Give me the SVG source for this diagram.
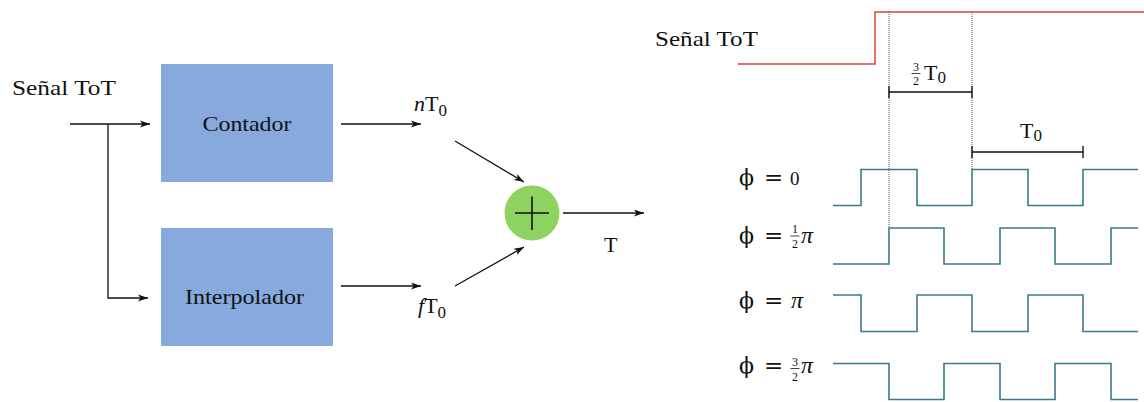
<svg xmlns="http://www.w3.org/2000/svg" width="1144" height="402" viewBox="0 0 1144 402">
<style>
.t{font-family:"Liberation Serif","DejaVu Serif",serif;fill:#111}
.m{font-family:"Liberation Serif","DejaVu Serif",serif;fill:#111;font-style:italic}
.g{font-family:"DejaVu Serif","Liberation Serif",serif;fill:#111}
.c{stroke:#111;stroke-width:1.3;fill:none}
.w{stroke:#3b7a88;stroke-width:1.6;fill:none}
.d{stroke:#333;stroke-width:0.8;stroke-dasharray:1 1;fill:none}
.box{fill:#87a9dd}
</style>
<defs>
<marker id="ar" markerUnits="userSpaceOnUse" markerWidth="11" markerHeight="8" refX="10" refY="4" orient="auto" viewBox="0 0 11 8">
<path d="M0,0.5 L10,4 L0,7.5 L2.5,4 Z" fill="#111"/>
</marker>
</defs>

<text class="t" x="12" y="95" font-size="22" textLength="104" lengthAdjust="spacingAndGlyphs">Señal ToT</text>

<g id="contador">
<rect class="box" x="161" y="64" width="172" height="118"/>
<text class="t" x="247" y="131" font-size="21" text-anchor="middle" textLength="89" lengthAdjust="spacingAndGlyphs">Contador</text>
</g>
<g id="interpolador">
<rect class="box" x="161" y="228" width="172" height="118"/>
<text class="t" x="244.5" y="304" font-size="21" text-anchor="middle" textLength="119" lengthAdjust="spacingAndGlyphs">Interpolador</text>
</g>
<g id="sumador">
<circle cx="532" cy="213" r="27.5" fill="#8ed35f"/>
<path d="M515,213 H549 M532,196.5 V230" stroke="#111" stroke-width="1.6"/>
</g>

<g id="connectors">
<line class="c" x1="70" y1="124" x2="150" y2="124" marker-end="url(#ar)"/>
<polyline class="c" points="108,124 108,298 148,298" marker-end="url(#ar)"/>
<line class="c" x1="341" y1="124" x2="421" y2="124" marker-end="url(#ar)"/>
<line class="c" x1="341" y1="286" x2="421" y2="286" marker-end="url(#ar)"/>
<line class="c" x1="455" y1="141" x2="524" y2="182" marker-end="url(#ar)"/>
<line class="c" x1="455" y1="286" x2="524" y2="247" marker-end="url(#ar)"/>
<line class="c" x1="563" y1="213" x2="644" y2="213" marker-end="url(#ar)"/>
</g>

<text class="m" x="414" y="111" font-size="22">n<tspan font-style="normal">T</tspan><tspan font-style="normal" font-size="17" dy="5">0</tspan></text>
<text class="m" x="418" y="313" font-size="22">f<tspan font-style="normal">T</tspan><tspan font-style="normal" font-size="17" dy="5">0</tspan></text>
<text class="t" x="604" y="252" font-size="22">T</text>

<!-- timing diagram -->
<text class="t" x="655" y="46" font-size="22" textLength="103" lengthAdjust="spacingAndGlyphs">Señal ToT</text>
<polyline points="738,64 875,64 875,12 1144,12" stroke="#d9433e" stroke-width="1.5" fill="none"/>
<line class="d" x1="889" y1="12" x2="889" y2="228"/>
<line class="d" x1="972" y1="12" x2="972" y2="169.5"/>

<path d="M889,92 H972 M889,86 V98 M972,86 V98" stroke="#111" stroke-width="1.4" fill="none"/>
<path d="M972,152 H1083 M972,146 V158 M1083,146 V158" stroke="#111" stroke-width="1.4" fill="none"/>

<text class="t" x="916" y="70.5" font-size="12" text-anchor="middle">3</text>
<line x1="911.5" y1="73.5" x2="920.5" y2="73.5" stroke="#111" stroke-width="0.8"/>
<text class="t" x="916" y="85" font-size="12" text-anchor="middle">2</text>
<text class="t" x="924" y="80" font-size="22">T<tspan font-size="17" dy="3">0</tspan></text>
<text class="t" x="1020" y="138" font-size="22">T<tspan font-size="17" dy="3">0</tspan></text>

<polyline class="w" points="833,205.5 861,205.5 861,169.5 917,169.5 917,205.5 972,205.5 972,169.5 1028,169.5 1028,205.5 1083,205.5 1083,169.5 1138,169.5"/>
<polyline class="w" points="833,264 889,264 889,228 944,228 944,264 1000,264 1000,228 1055,228 1055,264 1111,264 1111,228 1138,228"/>
<polyline class="w" points="833,295 861,295 861,331.5 917,331.5 917,295 972,295 972,331.5 1028,331.5 1028,295 1083,295 1083,331.5 1138,331.5"/>
<polyline class="w" points="833,363.5 889,363.5 889,399.5 944,399.5 944,363.5 1000,363.5 1000,399.5 1055,399.5 1055,363.5 1111,363.5 1111,399.5 1138,399.5"/>

<g id="phi0">
<text class="g" x="739" y="185" font-size="22">ϕ</text>
<text class="g" x="764" y="185" font-size="23">=</text>
<text class="t" x="790" y="185" font-size="19">0</text>
</g>
<g id="phi1">
<text class="g" x="739" y="243" font-size="22">ϕ</text>
<text class="g" x="764" y="243" font-size="23">=</text>
<text class="t" x="795" y="233" font-size="12" text-anchor="middle">1</text>
<line x1="790.5" y1="236" x2="799.5" y2="236" stroke="#111" stroke-width="0.8"/>
<text class="t" x="795" y="248" font-size="12" text-anchor="middle">2</text>
<text class="m" x="801" y="243" font-size="24">π</text>
</g>
<g id="phi2">
<text class="g" x="739" y="308" font-size="22">ϕ</text>
<text class="g" x="764" y="308" font-size="23">=</text>
<text class="m" x="791" y="308" font-size="24">π</text>
</g>
<g id="phi3">
<text class="g" x="739" y="373" font-size="22">ϕ</text>
<text class="g" x="764" y="373" font-size="23">=</text>
<text class="t" x="795" y="366" font-size="12" text-anchor="middle">3</text>
<line x1="790.5" y1="368.5" x2="799.5" y2="368.5" stroke="#111" stroke-width="0.8"/>
<text class="t" x="795" y="380.5" font-size="12" text-anchor="middle">2</text>
<text class="m" x="801" y="373" font-size="24">π</text>
</g>
</svg>
